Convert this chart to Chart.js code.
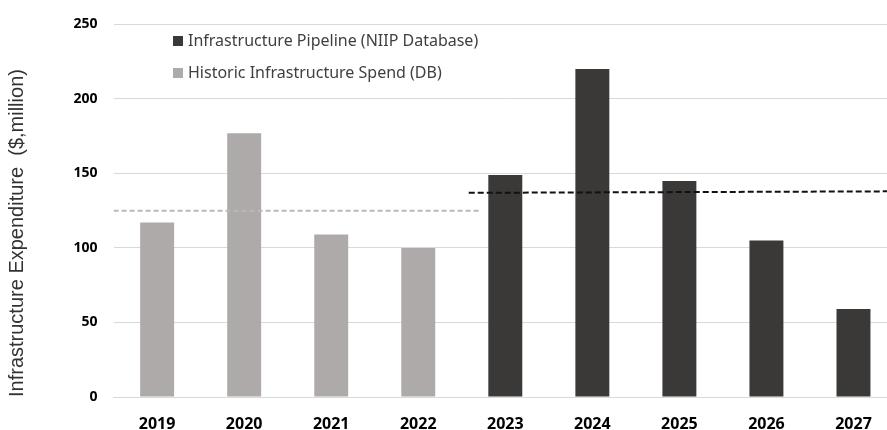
<!DOCTYPE html>
<html>
<head>
<meta charset="utf-8">
<script src="https://cdn.jsdelivr.net/npm/chart.js@4.4.1/dist/chart.umd.min.js"></script>
<style>
  body { margin: 0; overflow: hidden; background: #fff; }
  #wrap { position: relative; width: 897px; height: 430px; }
  #legend { position: absolute; left: 173px; top: 29px; font-family: 'Noto Sans', 'Open Sans', sans-serif; font-size: 16px; color: #404040; }
  #legend div { height: 32px; line-height: 22px; white-space: nowrap; }
  #legend span { display: inline-block; width: 10px; height: 10px; margin-right: 5px; vertical-align: 0px; }
</style>
</head>
<body>
<div id="wrap">
  <canvas id="myChart" width="897" height="430"></canvas>
  <div id="legend"></div>
</div>
<script>
const anos = ['2019', '2020', '2021', '2022', '2023', '2024', '2025', '2026', '2027']
const gastoHistorico = [117, 177, 109, 100, null, null, null, null, null]
const pipeline = [null, null, null, null, 149, 220, 145, 105, 59]
const mediaHistorica = [125, 125]
const mediaPipeline = [137, 138]
const ticksY = [0, 50, 100, 150, 200, 250]

const corEscura = '#3b3838'
const corClara = '#aeaaaa'

// average lines run on a hidden linear axis so they can start/stop between categories
const linhaMedia = (ini, fim, valores) => [
  { x: ini, y: valores[0] },
  { x: fim, y: valores[1] }
]

const makeConfig = () => ({
  type: 'bar',
  data: {
    labels: anos,
    datasets: [
      {
        label: 'Infrastructure Pipeline (NIIP Database)',
        data: pipeline,
        backgroundColor: corEscura,
        grouped: false,
        barPercentage: 0.39,
        categoryPercentage: 1,
        order: 2
      },
      {
        label: 'Historic Infrastructure Spend (DB)',
        data: gastoHistorico,
        backgroundColor: corClara,
        grouped: false,
        barPercentage: 0.39,
        categoryPercentage: 1,
        order: 2
      },
      {
        type: 'line',
        label: 'media historica',
        xAxisID: 'x2',
        data: linhaMedia(-0.5, 3.72, mediaHistorica),
        borderColor: '#b8b8b8',
        borderWidth: 2,
        borderDash: [5, 3],
        pointRadius: 0,
        order: 1
      },
      {
        type: 'line',
        label: 'media pipeline',
        xAxisID: 'x2',
        data: linhaMedia(3.58, 8.5, mediaPipeline),
        borderColor: '#111',
        borderWidth: 2,
        borderDash: [6, 3],
        pointRadius: 0,
        order: 1
      }
    ]
  },
  options: {
    responsive: false,
    animation: false,
    layout: { padding: { top: 23, right: 0, left: 0, bottom: 0 } },
    plugins: {
      legend: { display: false },
      tooltip: { enabled: false }
    },
    scales: {
      x: {
        grid: { display: false },
        border: { color: '#d9d9d9' },
        ticks: {
          color: '#000',
          padding: 10,
          font: { family: "'Open Sans', sans-serif", size: 16, weight: 'bold' }
        },
        afterFit: (s) => { s.height = 33 }
      },
      x2: {
        type: 'linear',
        display: false,
        offset: false,
        min: -0.5,
        max: 8.5
      },
      y: {
        min: 0,
        max: 250,
        afterBuildTicks: (s) => { s.ticks = ticksY.map(v => ({ value: v })) },
        grid: { color: '#d9d9d9', drawTicks: false },
        border: { display: false },
        ticks: {
          color: '#000',
          padding: 16,
          font: { family: "'Open Sans', sans-serif", size: 14, weight: 'bold' }
        },
        title: {
          display: true,
          align: 'start',
          text: 'Infrastructure Expenditure  ($,million)',
          color: '#333',
          padding: { top: 5, bottom: 0 },
          font: { family: "'Liberation Sans', Arial, sans-serif", size: 20 }
        },
        afterFit: (s) => { s.width = 113.6 }
      }
    }
  }
})

const myChart = new Chart(document.getElementById('myChart'), makeConfig())

// legend built from the two bar datasets
const legenda = document.getElementById('legend')
myChart.data.datasets.slice(0, 2).forEach((ds) => {
  const linha = document.createElement('div')
  const caixa = document.createElement('span')
  caixa.style.background = ds.backgroundColor
  linha.appendChild(caixa)
  linha.appendChild(document.createTextNode(ds.label))
  legenda.appendChild(linha)
})
</script>
</body>
</html>
